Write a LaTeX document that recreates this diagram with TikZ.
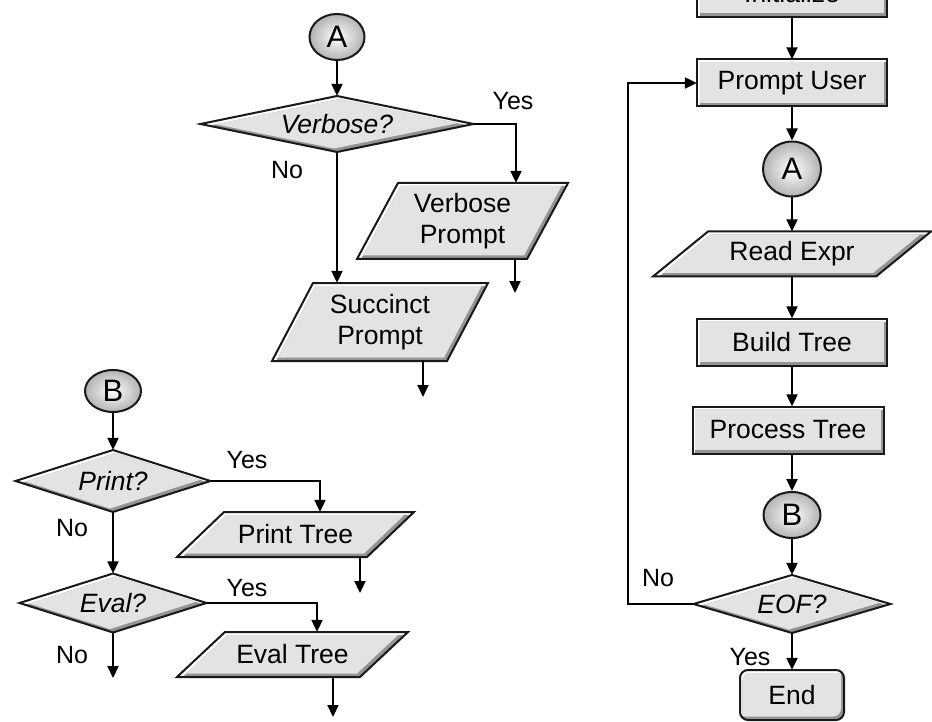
\documentclass[tikz,border=0pt]{standalone}
\usepackage{fontspec}
\setmainfont{Liberation Sans}
\usetikzlibrary{arrows.meta,calc,shapes.geometric}
\newcommand\mainsize{\fontsize{26.5pt}{31pt}\selectfont}
\newcommand\circsize{\fontsize{31pt}{34pt}\selectfont}
\newcommand\lblsize{\fontsize{25pt}{29pt}\selectfont}
\tikzset{
  facec/.style={fill=black!11},
  bandc/.style={fill=black!42},
  outline/.style={draw=black!90,line width=2pt,line join=miter},
  txt/.style={inner sep=0pt,font=\mainsize,align=center,text=black},
  conn/.style={ellipse,draw=black!90,line width=2pt,inner sep=0pt,inner color=white,outer color=black!30,font=\circsize},
  lbl/.style={inner sep=0pt,font=\lblsize},
  arr/.style={line width=2.2pt,-{Triangle[length=12pt,width=11pt]}},
}
% bevelled filled shape
\newcommand\bevel[2][]{%
  \begin{scope}
    \clip[#1] #2;
    \fill[white,#1] #2;
    \fill[bandc,#1,shift={(2.5,3)}] #2;
    \begin{scope}
      \clip[#1,shift={(2.5,3)}] #2;
      \fill[facec,#1,shift={(-3,-3.5)}] #2;
    \end{scope}
  \end{scope}
  \draw[outline,#1] #2;
}
% name cx cy w h text
\newcommand\procbox[6]{%
  \bevel{({#2-#4/2},{#3-#5/2}) rectangle ({#2+#4/2},{#3+#5/2})}
  \node[txt,minimum width=#4,minimum height=#5] (#1) at (#2,#3) {#6};
}
\newcommand\termbox[6]{%
  \bevel[rounded corners=8pt]{({#2-#4/2},{#3-#5/2}) rectangle ({#2+#4/2},{#3+#5/2})}
  \node[txt,minimum width=#4,minimum height=#5] (#1) at (#2,#3) {#6};
}
% name cx cy w h slant text
\newcommand\iobox[7]{%
  \bevel{({#2-#4/2},{#3+#5/2}) -- ({#2+#4/2-#6},{#3+#5/2}) -- ({#2+#4/2},{#3-#5/2}) -- ({#2-#4/2+#6},{#3-#5/2}) -- cycle}
  \node[txt,minimum width=#4,minimum height=#5] (#1) at (#2,#3) {#7};
}
% name cx cy w h text
\newcommand\decbox[6]{%
  \bevel{({#2-#4/2},#3) -- (#2,{#3+#5/2}) -- ({#2+#4/2},#3) -- (#2,{#3-#5/2}) -- cycle}
  \node[txt,minimum width=#4,minimum height=#5] (#1) at (#2,#3) {\itshape #6};
}
\begin{document}
\begin{tikzpicture}[x=1pt,y=-1pt]
\useasboundingbox (0,0) rectangle (932,722);
\fill[white] (0,0) rectangle (932,722);
\clip (0,0) rectangle (932,722);

% ---------- right column ----------
\procbox{init}{792}{-6.5}{190}{47}{Initialize}
\procbox{prompt}{792}{83}{190}{47}{Prompt User}
\node[conn,minimum width=58,minimum height=55] (A2) at (792,169) {A};
\iobox{read}{792}{254}{278}{45}{55}{Read Expr}
\procbox{build}{792}{342}{190}{47}{Build Tree}
\procbox{process}{788}{430}{191}{47}{Process Tree}
\node[conn,minimum width=57,minimum height=46] (B2) at (792,515) {B};
\decbox{eof}{792}{604}{197}{58}{EOF?}
\termbox{end}{792}{695}{104}{50}{End}

\draw[arr] (init.south) -- (prompt.north);
\draw[arr] (prompt.south) -- (A2.north);
\draw[arr] (A2.south) -- (A2.south |- read.north);
\draw[arr] (A2.south |- read.south) -- (build.north);
\draw[arr] (build.south) -- (build.south |- process.north);
\draw[arr] (B2.north |- process.south) -- (B2.north);
\draw[arr] (B2.south) -- (eof.north);
\draw[arr] (eof.west) -| ($(prompt.west)+(-69,0)$) -- (prompt.west);
\draw[arr] (eof.south) -- (end.north);
\node[lbl] (noeof) at (658,578) {No};
\node[lbl] (yeseof) at (750,657) {Yes};

% ---------- top middle ----------
\node[conn,minimum width=55,minimum height=46] (A1) at (337,37) {A};
\decbox{verbose}{337}{124}{273}{56}{Verbose?}
\iobox{vprompt}{462.5}{221}{211}{76}{41}{Verbose\\Prompt}
\iobox{sprompt}{380}{322}{216}{78}{41}{Succinct\\Prompt}
\coordinate (vpout) at (515,293);
\coordinate (spout) at (423,397);

\draw[arr] (A1.south) -- (verbose.north);
\draw[arr] (verbose.east) -| ($(vprompt.north)+(53.5,0)$);
\draw[arr] (verbose.south) -- (verbose.south |- sprompt.north);
\draw[arr] (vpout |- vprompt.south) -- (vpout);
\draw[arr] (spout |- sprompt.south) -- (spout);
\node[lbl] (yesv) at (513,101) {Yes};
\node[lbl] (nov) at (287,170) {No};

% ---------- bottom left ----------
\node[conn,minimum width=56,minimum height=42] (B1) at (113,391) {B};
\decbox{print}{113}{481}{195}{62}{Print?}
\iobox{ptree}{295.5}{534.5}{237}{45}{47}{Print Tree}
\decbox{eval}{113}{603}{187}{59}{Eval?}
\iobox{etree}{292.5}{654.5}{231}{45}{48}{Eval Tree}
\coordinate (ptout) at (360,593);
\coordinate (etout) at (333,717);
\coordinate (evno) at (113,678);

\draw[arr] (B1.south) -- (print.north);
\draw[arr] (print.east) -| ($(ptree.north)+(24.5,0)$);
\draw[arr] (print.south) -- (eval.north);
\draw[arr] (ptout |- ptree.south) -- (ptout);
\draw[arr] (eval.east) -| ($(etree.north)+(24.5,0)$);
\draw[arr] (eval.south) -- (evno);
\draw[arr] (etout |- etree.south) -- (etout);
\node[lbl] (yesp) at (247,460) {Yes};
\node[lbl] (nop) at (72,528) {No};
\node[lbl] (yese) at (247,588) {Yes};
\node[lbl] (noe) at (72,655) {No};
\end{tikzpicture}
\end{document}
